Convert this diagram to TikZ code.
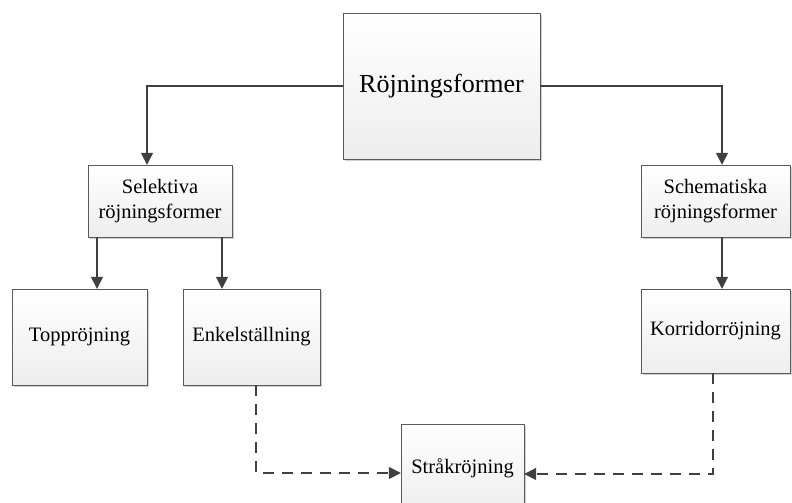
\documentclass[tikz,border=0pt]{standalone}
\usepackage{fontspec}
\setmainfont{Liberation Serif}
\usetikzlibrary{arrows.meta, shadows}
\definecolor{linegray}{HTML}{404040}
\definecolor{boxgray}{HTML}{5A5A5A}

\begin{document}
\begin{tikzpicture}[x=1pt, y=-1pt, semithick]
	\tikzset{
	    rbox/.style= {rectangle, draw=boxgray, thin, top color=white, bottom color=gray!14,
	                  drop shadow={shadow xshift=2pt, shadow yshift=-2pt, fill=gray!60, opacity=0.6},
	                  align=center, font=\fontsize{20.5}{25}\selectfont, inner sep=2pt},
	    conn/.style= {draw=linegray, line width=1.5pt, -{Triangle[width=12pt, length=12pt]}},
	    dconn/.style= {conn, dash pattern=on 11pt off 8pt},
	}
	\useasboundingbox (0, 0) rectangle (792, 503);

	\node[rbox, minimum width=197pt, minimum height=146pt, font=\fontsize{26}{31}\selectfont] (main) at (441.5, 86) {Röjningsformer};
	\node[rbox, minimum width=144pt, minimum height=72pt] (sel) at (160, 201) {Selektiva\\röjningsformer};
	\node[rbox, minimum width=149pt, minimum height=72pt] (sch) at (715.5, 201) {Schematiska\\röjningsformer};
	\node[rbox, minimum width=135pt, minimum height=96pt] (topp) at (79.5, 337) {Toppröjning};
	\node[rbox, minimum width=137pt, minimum height=96pt] (enkel) at (251.5, 337) {Enkelställning};
	\node[rbox, minimum width=149pt, minimum height=84pt] (korr) at (715.5, 331) {Korridorröjning};
	\node[rbox, minimum width=123pt, minimum height=88pt] (strak) at (462.5, 468) {Stråkröjning};

	\draw[conn] (main.west) -| ([xshift=-13pt]sel.north);
	\draw[conn] (main.east) -| ([xshift=6.5pt]sch.north);
	\draw[conn] ([xshift=-63pt]sel.south) -- ([xshift=-63pt]sel.south |- topp.north);
	\draw[conn] ([xshift=62pt]sel.south) -- ([xshift=62pt]sel.south |- enkel.north);
	\draw[conn] ([xshift=6.5pt]sch.south) -- ([xshift=6.5pt]sch.south |- korr.north);
	\draw[dconn] ([xshift=4.5pt]enkel.south) |- ([yshift=-5pt]strak.west);
	\draw[dconn] ([xshift=-2.5pt]korr.south) |- ([yshift=-6pt]strak.east);
\end{tikzpicture}
\end{document}
